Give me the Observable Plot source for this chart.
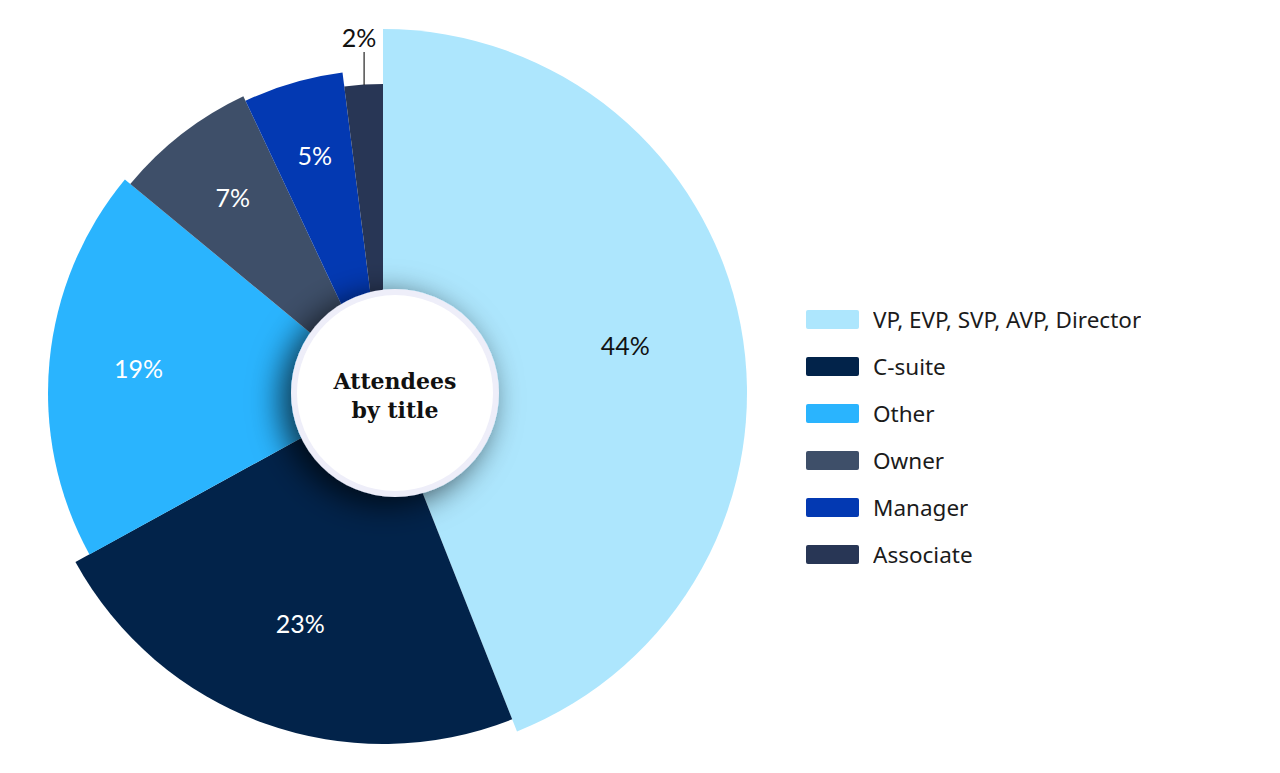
<!DOCTYPE html>
<html>
<head>
<meta charset="utf-8">
<script src="https://cdn.jsdelivr.net/npm/d3@7"></script>
<script src="https://cdn.jsdelivr.net/npm/@observablehq/plot@0.6"></script>
<style>
  html, body { margin: 0; padding: 0; background: #ffffff; }
  #wrap { position: relative; width: 1280px; height: 773px; overflow: hidden; }
  #legend { position: absolute; left: 806px; top: 296px; }
  #legend .lg-swatches { margin: 0; }
  #legend .lg-swatch { height: 47px; padding-bottom: 0; }
  #legend .lg-swatch > svg { margin-right: 14px; }
  #legend .lg-swatch > svg rect { rx: 2px; }
</style>
</head>
<body>
<div id="wrap">
  <div id="chart"></div>
  <div id="legend"></div>
</div>
<script>
// ---- data ----
const categories = ["VP, EVP, SVP, AVP, Director", "C-suite", "Other", "Owner", "Manager", "Associate"];
const shares = [44, 23, 19, 7, 5, 2];
const centerTitle = ["Attendees", "by title"];

// ---- style ----
const sliceColors = ["#ade6fd", "#02234a", "#2ab4fe", "#3e4f69", "#0339b2", "#283655"];
const sliceOuterRadius = [364, 351, 335, 328, 323, 309];
const CX = 383, CY = 393;          // pie centre
const HOLE = {dx: 12, r: 104, ring: 6};
const LABEL_R = 246;
const OUTSIDE_BELOW = 3;           // shares below this get an outside label

const rows = categories.map((category, i) => ({category, share: shares[i], label: `${shares[i]}%`}));
const color = Plot.scale({color: {type: "ordinal", domain: categories, range: sliceColors}});
const radius = d3.scaleOrdinal(categories, sliceOuterRadius);
const arcs = d3.pie().sort(null).value(d => d.share).startAngle(0).endAngle(2 * Math.PI)(rows);

const labelData = arcs.map(a => {
  const mid = (a.startAngle + a.endAngle) / 2;
  const outside = a.data.share < OUTSIDE_BELOW;
  const ro = radius(a.data.category);
  if (outside) {
    const x = CX + ro * Math.sin(mid);
    const y1 = CY - ro * Math.cos(mid);
    const y2 = y1 - 33;
    return {...a.data, outside, x, tx: x - 5, y: y2 - 13, y1, y2, fill: "#111111"};
  }
  const c = color.apply(a.data.category);
  const x = CX + LABEL_R * Math.sin(mid);
  return {
    ...a.data, outside, x, tx: x,
    y: CY - LABEL_R * Math.cos(mid),
    fill: d3.hsl(c).l > 0.6 ? "#111111" : "#ffffff"
  };
});

function slices() {
  const g = d3.create("svg:g");
  const arc = d3.arc().innerRadius(0);
  g.selectAll("path").data(arcs).join("path")
    .attr("transform", `translate(${CX},${CY})`)
    .attr("d", a => arc.outerRadius(radius(a.data.category))(a))
    .attr("fill", a => color.apply(a.data.category));
  return g.node();
}

function hole() {
  const g = d3.create("svg:g");
  const id = "hole-shadow";
  g.append("defs").append("filter")
    .attr("id", id).attr("x", "-60%").attr("y", "-60%").attr("width", "220%").attr("height", "220%")
    .append("feDropShadow")
    .attr("dx", -10).attr("dy", 7).attr("stdDeviation", 16)
    .attr("flood-color", "#000").attr("flood-opacity", 0.7);
  const hx = CX + HOLE.dx;
  g.append("circle").attr("cx", hx).attr("cy", CY).attr("r", HOLE.r)
    .attr("fill", "#eeeef9").attr("filter", `url(#${id})`);
  g.append("circle").attr("cx", hx).attr("cy", CY).attr("r", HOLE.r - HOLE.ring)
    .attr("fill", "#ffffff");
  g.append("text")
    .attr("x", hx).attr("y", CY - 4)
    .attr("text-anchor", "middle")
    .attr("font-family", "'DejaVu Serif', serif")
    .attr("font-weight", "bold").attr("font-size", 22).attr("fill", "#111")
    .selectAll("tspan").data(centerTitle).join("tspan")
    .attr("x", hx).attr("dy", (d, i) => i === 0 ? 0 : 29)
    .text(d => d);
  return g.node();
}

const chart = Plot.plot({
  width: 1280,
  height: 773,
  margin: 0,
  x: {type: "identity", axis: null},
  y: {type: "identity", axis: null},
  color: {type: "identity"},
  style: {background: "#ffffff"},
  marks: [
    slices,
    hole,
    Plot.link(labelData.filter(d => d.outside), {
      x1: "x", x2: "x", y1: "y1", y2: "y2", stroke: "#222", strokeWidth: 1.2
    }),
    Plot.text(labelData, {
      x: "tx", y: "y", text: "label", fill: "fill",
      fontFamily: "Lato, 'Noto Sans', sans-serif", fontSize: 25
    })
  ]
});
document.getElementById("chart").appendChild(chart);

const legend = Plot.legend({
  color: {type: "ordinal", domain: categories, range: sliceColors},
  columns: 1,
  swatchWidth: 53,
  swatchHeight: 19,
  className: "lg",
  style: {fontFamily: "'Noto Sans', sans-serif", fontSize: "22.5px", color: "#1b1b1b"}
});
document.getElementById("legend").appendChild(legend);
</script>
</body>
</html>
